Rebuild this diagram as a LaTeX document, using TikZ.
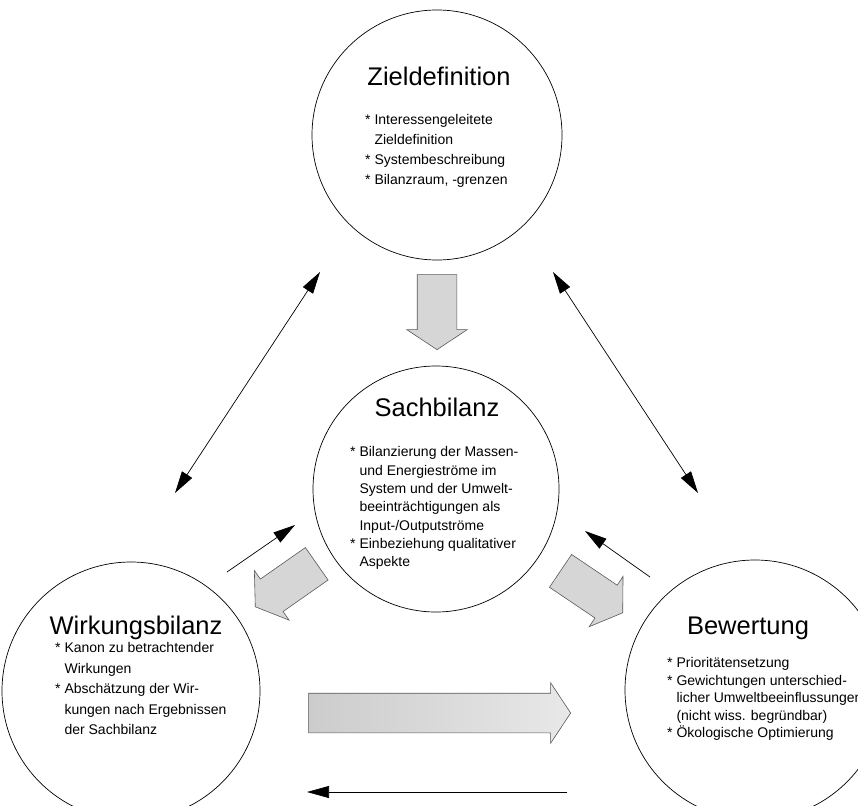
\documentclass[tikz,border=0pt]{standalone}
\usepackage{fontspec}
\setmainfont{Liberation Sans}
\usetikzlibrary{arrows.meta,shapes.arrows}

\newcommand{\einr}{\hphantom{*\ }}

\begin{document}
\begin{tikzpicture}[
  x=1pt, y=-1pt,
  phase/.style={draw, circle, line width=0.7pt, minimum size=#1, inner sep=0pt},
  phasetitle/.style={anchor=base, font=\fontsize{25.5}{30}\selectfont},
  body/.style={anchor=north west, align=left, inner sep=0pt, font=\fontsize{14}{#1}\selectfont},
  fat/.style={single arrow, draw=black!65, fill=black!16, line width=0.6pt, minimum height=#1,
    inner xsep=0pt, inner ysep=19.5pt, single arrow head extend=10.5pt, single arrow tip angle=113,
    anchor=tip, text height=0pt, text depth=0pt},
  link/.style={-{Triangle[length=22pt, width=12pt]}, line width=0.7pt},
  both/.style={{Triangle[length=22pt, width=12pt]}-{Triangle[length=22pt, width=12pt]}, line width=0.7pt}
]
  \useasboundingbox (0,0) rectangle (858,805);

  \node[phase=250pt] (ziel) at (437,135) {};
  \node[phase=246pt] (sach) at (436,489) {};
  \node[phase=258pt] (wirk) at (131,691) {};
  \node[phase=260pt] (bew) at (755,690) {};

  \node[phasetitle] (zieltitle) at (439,86) {Zieldefinition};
  \node[phasetitle] (sachtitle) at (437,416) {Sachbilanz};
  \node[phasetitle] (wirktitle) at (136,634) {Wirkungsbilanz};
  \node[phasetitle] (bewtitle) at (748,634) {Bewertung};

  \node[body=20pt] (zieltext) at (365,114.5) {* Interessengeleitete\\\einr Zieldefinition\\* Systembeschreibung\\* Bilanzraum, -grenzen};
  \node[body=18.3pt] (sachtext) at (350,446.5) {* Bilanzierung der Massen-\\\einr und Energieströme im\\\einr System und der Umwelt-\\\einr beeinträchtigungen als\\\einr Input-/Outputströme\\* Einbeziehung qualitativer\\\einr Aspekte};
  \node[body=20.5pt] (wirktext) at (55,642.5) {* Kanon zu betrachtender\\\einr Wirkungen\\* Abschätzung der Wir-\\\einr kungen nach Ergebnissen\\\einr der Sachbilanz};
  \node[body=17.5pt] (bewtext) at (667,657.5) {* Prioritätensetzung\\* Gewichtungen unterschied-\\\einr licher Umweltbeeinflussungen\\\einr (nicht wiss. begründbar)\\* Ökologische Optimierung};

  \node[fat=75pt, rotate=-90] (zs) at (437,350) {};
  \node[fat=75pt, rotate=215] (sw) at (255,607) {};
  \node[fat=75pt, rotate=-34] (sb) at (623,613) {};
  \node[fat=262pt, left color=black!20, right color=black!9] (wb) at (571,713) {};

  \coordinate (zw-a) at (320,272);
  \coordinate (zw-b) at (175,493);
  \coordinate (zb-a) at (553,272);
  \coordinate (zb-b) at (698,493);
  \coordinate (ws-a) at (227,572);
  \coordinate (ws-b) at (295,525);
  \coordinate (bs-a) at (650,577);
  \coordinate (bs-b) at (585,531);
  \coordinate (bw-a) at (567,792);
  \coordinate (bw-b) at (307,792);

  \draw[both] (zw-a) -- (zw-b);
  \draw[both] (zb-a) -- (zb-b);
  \draw[link] (ws-a) -- (ws-b);
  \draw[link] (bs-a) -- (bs-b);
  \draw[link] (bw-a) -- (bw-b);
\end{tikzpicture}
\end{document}
